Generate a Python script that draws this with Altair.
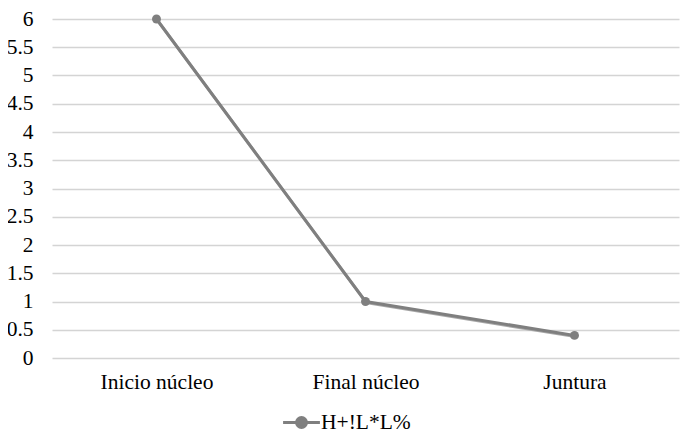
import altair as alt
import pandas as pd

categories = ["Inicio núcleo", "Final núcleo", "Juntura"]
values = [6, 1, 0.4]
series = ["H+!L*L%"] * 3

df = pd.DataFrame({"cat": categories, "val": values, "serie": series})

FONT = "'Times New Roman', 'Liberation Serif', 'DejaVu Serif', serif"
GRAY = "#7f7f7f"
FS = 21.5

x = alt.X("cat:N", sort=categories, title=None,
          scale=alt.Scale(type="point", padding=0.5),
          axis=alt.Axis(labelAngle=0, domain=False, ticks=False, grid=False,
                        labelPadding=13, labelFontSize=FS, labelFont=FONT,
                        labelColor="#000000"))
y = alt.Y("val:Q", title=None,
          scale=alt.Scale(domain=[0, 6], nice=False),
          axis=alt.Axis(values=[0, 0.5, 1, 1.5, 2, 2.5, 3, 3.5, 4, 4.5, 5, 5.5, 6],
                        format="~g", domain=False, ticks=False, grid=True,
                        gridColor="#d4d4d4", gridWidth=1.5,
                        labelPadding=19, labelFontSize=FS, labelFont=FONT,
                        labelColor="#000000"))

legend_path = ("M-1.6,0L1.6,0 M-0.43,0 A0.43,0.43 0 1,0 0.43,0 "
               "A0.43,0.43 0 1,0 -0.43,0 Z")

color = alt.Color("serie:N", title=None,
                  scale=alt.Scale(range=[GRAY]),
                  legend=alt.Legend(orient="none", legendX=236, legendY=390,
                                    symbolType=legend_path, symbolSize=530,
                                    symbolStrokeWidth=3, symbolStrokeColor=GRAY,
                                    symbolFillColor=GRAY, labelFont=FONT,
                                    labelFontSize=FS, labelColor="#000000",
                                    labelOffset=6))

shadow = alt.Chart(df).mark_line(color="#a8a8a8", strokeWidth=3, yOffset=1.2, xOffset=0.8).encode(
    x=x, y=y, detail="serie:N")
line = alt.Chart(df).mark_line(strokeWidth=3).encode(x=x, y=y, color=color)
pts = alt.Chart(df).mark_point(filled=True, size=80, opacity=1).encode(
    x=x, y=y, color=alt.Color("serie:N", scale=alt.Scale(range=[GRAY]), legend=None))

chart = alt.layer(shadow, line, pts).properties(
    width=627, height=339,
    autosize=alt.AutoSizeParams(type="none"),
    padding={"left": 44, "top": 11, "right": 13, "bottom": 75},
    background="white",
).configure(font=FONT).configure_view(stroke=None)

chart.save("out.html", embed_options={"renderer": "svg", "actions": False})
